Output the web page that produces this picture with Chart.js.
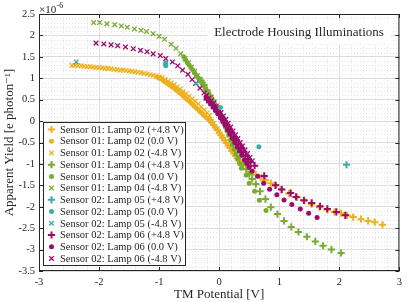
<!DOCTYPE html>
<html>
<head>
<meta charset="utf-8">
<script src="https://cdn.jsdelivr.net/npm/chart.js@4.4.0/dist/chart.umd.min.js"></script>
<style>
  html, body { margin: 0; padding: 0; background: #fff; }
</style>
</head>
<body>
<canvas id="c" width="407" height="302"></canvas>
<script>
// tick values
const xTickVals = [-3, -2, -1, 0, 1, 2, 3];
const yTickVals = [-3.5, -3, -2.5, -2, -1.5, -1, -0.5, 0, 0.5, 1, 1.5, 2, 2.5];

// data: [TM potential (V), apparent yield (x1e-6)]
const s01L02Plus = [[-0.15,0.03],[-0.12,-0.03],[-0.09,-0.09],[-0.06,-0.15],[-0.03,-0.21],[0.00,-0.27],[0.03,-0.33],[0.06,-0.39],[0.09,-0.45],[0.12,-0.51],[0.15,-0.57],[0.18,-0.63],[0.21,-0.69],[0.24,-0.75],[0.27,-0.81],[0.30,-0.87],[0.33,-0.93],[0.36,-0.98],[0.40,-1.04],[0.46,-1.11],[0.52,-1.18],[0.61,-1.25],[0.69,-1.32],[0.77,-1.38],[0.86,-1.45],[0.93,-1.50],[1.04,-1.59],[1.16,-1.69],[1.30,-1.78],[1.42,-1.86],[1.54,-1.94],[1.67,-2.01],[1.80,-2.07],[1.92,-2.12],[2.03,-2.15],[2.13,-2.20],[2.23,-2.24],[2.36,-2.29],[2.48,-2.33],[2.59,-2.36],[2.72,-2.42]];
const s01L02Zero = [[-1.02,1.02],[-1.00,1.00],[-0.98,1.01],[-0.96,0.98],[-0.93,0.95],[-0.90,0.92],[-0.87,0.89],[-0.84,0.86],[-0.81,0.83],[-0.78,0.80],[-0.75,0.77],[-0.72,0.73],[-0.69,0.70],[-0.66,0.66],[-0.63,0.63],[-0.60,0.59],[-0.57,0.55],[-0.54,0.51],[-0.51,0.48],[-0.48,0.44],[-0.45,0.40],[-0.42,0.36],[-0.39,0.32],[-0.36,0.28],[-0.33,0.24],[-0.30,0.20],[-0.27,0.16],[-0.24,0.12],[-0.21,0.08],[-0.18,0.04],[-0.15,0.01],[-0.14,-0.02]];
const s01L02Minus = [[-2.45,1.30],[-2.40,1.30],[-2.35,1.29],[-2.30,1.29],[-2.25,1.28],[-2.20,1.27],[-2.15,1.27],[-2.10,1.26],[-2.05,1.25],[-2.00,1.25],[-1.95,1.24],[-1.90,1.23],[-1.85,1.23],[-1.80,1.22],[-1.75,1.21],[-1.70,1.20],[-1.65,1.19],[-1.60,1.19],[-1.55,1.18],[-1.50,1.17],[-1.45,1.16],[-1.40,1.15],[-1.35,1.14],[-1.30,1.13],[-1.25,1.11],[-1.20,1.10],[-1.15,1.08],[-1.10,1.07],[-1.05,1.05],[-1.00,1.03],[-0.95,1.01],[-0.90,0.97],[-0.85,0.93],[-0.80,0.89],[-0.75,0.85],[-0.70,0.80],[-0.65,0.75],[-0.60,0.69],[-0.55,0.64],[-0.50,0.58],[-0.45,0.52],[-0.40,0.46],[-0.35,0.40],[-0.30,0.33],[-0.25,0.26],[-0.20,0.19],[-0.16,0.13]];

const s01L04Plus = [[-0.30,0.95],[-0.25,0.84],[-0.20,0.72],[-0.15,0.60],[-0.10,0.48],[-0.05,0.35],[0.00,0.22],[0.05,0.08],[0.10,-0.06],[0.15,-0.20],[0.20,-0.35],[0.25,-0.50],[0.30,-0.66],[0.35,-0.82],[0.40,-0.98],[0.45,-1.12],[0.50,-1.24],[0.55,-1.35],[0.61,-1.47],[0.68,-1.64],[0.77,-1.82],[0.86,-2.01],[0.97,-2.17],[1.08,-2.33],[1.20,-2.47],[1.32,-2.59],[1.46,-2.70],[1.60,-2.81],[1.73,-2.91],[1.87,-3.00],[2.03,-3.08]];
const s01L04Zero = [[-0.59,1.50],[-0.56,1.43],[-0.53,1.37],[-0.50,1.31],[-0.47,1.25],[-0.44,1.19],[-0.41,1.13],[-0.38,1.07],[-0.35,1.01],[-0.32,0.95],[-0.29,0.89],[-0.26,0.83],[-0.23,0.76],[-0.20,0.69],[-0.17,0.62],[-0.14,0.55],[-0.11,0.48],[-0.08,0.40],[-0.05,0.32],[-0.02,0.24],[0.01,0.15],[0.04,0.06],[0.07,-0.03],[0.10,-0.13],[0.13,-0.23],[0.16,-0.33],[0.19,-0.44],[0.22,-0.55],[0.25,-0.66],[0.28,-0.77],[0.31,-0.88],[0.34,-0.99],[0.37,-1.10],[0.45,-1.26],[0.50,-1.45],[0.59,-1.64],[0.67,-1.85],[0.78,-2.09]];
const s01L04Minus = [[-2.09,2.30],[-1.99,2.30],[-1.87,2.27],[-1.74,2.25],[-1.63,2.22],[-1.53,2.19],[-1.41,2.15],[-1.30,2.12],[-1.21,2.09],[-1.10,2.04],[-1.00,1.98],[-0.91,1.91],[-0.80,1.79],[-0.72,1.70],[-0.64,1.57],[-0.57,1.46],[-0.51,1.36],[-0.46,1.26],[-0.41,1.16],[-0.36,1.06],[-0.31,0.96],[-0.26,0.86]];

const s02L05Plus = [[2.12,-1.02]];
const s02L05Zero = [[-0.89,1.36],[-0.89,1.32],[-0.89,1.29],[0.02,0.32],[0.66,-0.60]];
const s02L05Minus = [[-2.38,1.38],[-0.38,0.88]];

const s02L06Plus = [[-0.20,0.50],[-0.16,0.44],[-0.12,0.37],[-0.08,0.30],[-0.04,0.23],[0.00,0.16],[0.04,0.08],[0.08,0.00],[0.12,-0.09],[0.16,-0.18],[0.20,-0.27],[0.24,-0.36],[0.28,-0.45],[0.32,-0.54],[0.36,-0.63],[0.40,-0.72],[0.44,-0.81],[0.48,-0.89],[0.52,-0.96],[0.59,-1.04],[0.75,-1.28],[0.94,-1.50],[1.04,-1.60],[1.19,-1.68],[1.28,-1.77],[1.41,-1.85],[1.54,-1.91],[1.68,-1.99],[1.80,-2.05],[1.95,-2.12],[2.10,-2.20]];
const s02L06Zero = [[-0.22,0.56],[-0.18,0.49],[-0.14,0.41],[-0.10,0.33],[-0.06,0.25],[-0.02,0.17],[0.02,0.08],[0.06,-0.01],[0.10,-0.10],[0.14,-0.20],[0.18,-0.30],[0.22,-0.40],[0.26,-0.50],[0.30,-0.60],[0.34,-0.70],[0.38,-0.80],[0.42,-0.90],[0.46,-0.99],[0.50,-1.08],[0.55,-1.17],[0.64,-1.29],[0.74,-1.45],[0.84,-1.59],[0.96,-1.72],[1.08,-1.84],[1.21,-1.95],[1.35,-2.05],[1.49,-2.15],[1.63,-2.25]];
const s02L06Minus = [[-2.05,1.82],[-1.92,1.80],[-1.80,1.78],[-1.69,1.76],[-1.56,1.73],[-1.43,1.69],[-1.31,1.65],[-1.20,1.62],[-1.10,1.57],[-0.98,1.53],[-0.89,1.46],[-0.78,1.38],[-0.69,1.29],[-0.61,1.19],[-0.52,1.09],[-0.45,0.97],[-0.39,0.88],[-0.32,0.77],[-0.25,0.66],[-0.21,0.60],[-0.17,0.54],[-0.13,0.48],[-0.09,0.42],[-0.05,0.35],[-0.01,0.28],[0.03,0.20],[0.07,0.12],[0.11,0.04],[0.15,-0.05],[0.19,-0.14],[0.23,-0.23],[0.27,-0.32],[0.31,-0.41],[0.35,-0.50],[0.39,-0.58],[0.43,-0.67],[0.47,-0.76],[0.51,-0.85],[0.55,-0.93]];

const orange = '#EDB120';
const green = '#77AC30';
const teal = '#3FA9B0';
const magenta = '#9C0A6C';
const serif = "'Liberation Serif', 'DejaVu Serif', serif";
const ink = '#262626';

// build a dataset with the marker look for each bias
const makeSet = (label, pts, color, bias, order) => {
  const set = {
    label,
    data: pts.map(p => ({ x: p[0], y: p[1] })),
    order,
    showLine: false,
    borderColor: color,
    backgroundColor: color,
    pointBackgroundColor: color,
    pointBorderColor: color,
  };
  if (bias === 'plus') {
    Object.assign(set, { pointStyle: 'cross', pointRadius: 3.6, pointHoverRadius: 3.6, pointBorderWidth: 2 });
  } else if (bias === 'zero') {
    Object.assign(set, { pointStyle: 'circle', pointRadius: 2.5, pointHoverRadius: 2.5, pointBorderWidth: 0 });
  } else {
    Object.assign(set, { pointStyle: 'crossRot', pointRadius: 3.3, pointHoverRadius: 3.3, pointBorderWidth: 1.3 });
  }
  set.bias = bias;
  return set;
};

const datasets = [
  makeSet('Sensor 01: Lamp 02 (+4.8 V)', s01L02Plus, orange, 'plus', 12),
  makeSet('Sensor 01: Lamp 02 (0.0 V)', s01L02Zero, orange, 'zero', 11),
  makeSet('Sensor 01: Lamp 02 (-4.8 V)', s01L02Minus, orange, 'minus', 10),
  makeSet('Sensor 01: Lamp 04 (+4.8 V)', s01L04Plus, green, 'plus', 9),
  makeSet('Sensor 01: Lamp 04 (0.0 V)', s01L04Zero, green, 'zero', 8),
  makeSet('Sensor 01: Lamp 04 (-4.8 V)', s01L04Minus, green, 'minus', 7),
  makeSet('Sensor 02: Lamp 05 (+4.8 V)', s02L05Plus, teal, 'plus', 1),
  makeSet('Sensor 02: Lamp 05 (0.0 V)', s02L05Zero, teal, 'zero', 2),
  makeSet('Sensor 02: Lamp 05 (-4.8 V)', s02L05Minus, teal, 'minus', 0),
  makeSet('Sensor 02: Lamp 06 (+4.8 V)', s02L06Plus, magenta, 'plus', 5),
  makeSet('Sensor 02: Lamp 06 (0.0 V)', s02L06Zero, magenta, 'zero', 4),
  makeSet('Sensor 02: Lamp 06 (-4.8 V)', s02L06Minus, magenta, 'minus', 6),
];

// dotted minor grid
const minorGrid = {
  id: 'minorGrid',
  beforeDatasetsDraw(chart) {
    const { ctx, chartArea: a, scales: { x, y } } = chart;
    ctx.save();
    ctx.strokeStyle = '#e2e2e2';
    ctx.lineWidth = 1;
    ctx.setLineDash([1, 2]);
    for (let i = 1; i < 30; i++) {
      if (i % 5 === 0) continue;
      const px = Math.round(x.getPixelForValue(-3 + i * 0.2)) + 0.5;
      ctx.beginPath(); ctx.moveTo(px, a.top); ctx.lineTo(px, a.bottom); ctx.stroke();
    }
    for (let i = 1; i < 60; i++) {
      if (i % 5 === 0) continue;
      const py = Math.round(y.getPixelForValue(-3.5 + i * 0.1)) + 0.5;
      ctx.beginPath(); ctx.moveTo(a.left, py); ctx.lineTo(a.right, py); ctx.stroke();
    }
    ctx.restore();
  }
};

function drawMarker(ctx, bias, color, cx, cy) {
  ctx.save();
  ctx.strokeStyle = color;
  ctx.fillStyle = color;
  ctx.beginPath();
  if (bias === 'plus') {
    ctx.lineWidth = 2;
    ctx.moveTo(cx - 3.6, cy); ctx.lineTo(cx + 3.6, cy);
    ctx.moveTo(cx, cy - 3.6); ctx.lineTo(cx, cy + 3.6);
    ctx.stroke();
  } else if (bias === 'zero') {
    ctx.arc(cx, cy, 2.5, 0, Math.PI * 2);
    ctx.fill();
  } else {
    ctx.lineWidth = 1.3;
    ctx.moveTo(cx - 2.3, cy - 2.3); ctx.lineTo(cx + 2.3, cy + 2.3);
    ctx.moveTo(cx - 2.3, cy + 2.3); ctx.lineTo(cx + 2.3, cy - 2.3);
    ctx.stroke();
  }
  ctx.restore();
}

// title box, legend, frame with inward ticks, exponent label
const decorations = {
  id: 'decorations',
  afterDatasetsDraw(chart) {
    const { ctx } = chart;
    ctx.save();
    // title inside plot
    ctx.fillStyle = '#fff';
    ctx.fillRect(207, 21, 184, 23);
    ctx.fillStyle = ink;
    ctx.font = '13px ' + serif;
    ctx.textAlign = 'center';
    ctx.textBaseline = 'middle';
    ctx.fillText('Electrode Housing Illuminations', 299, 32.5);

    // legend
    const lx = 43.5, ly = 122.5, lw = 142, lh = 143;
    ctx.fillStyle = '#fff';
    ctx.fillRect(lx, ly, lw, lh);
    ctx.strokeStyle = ink;
    ctx.lineWidth = 1;
    ctx.strokeRect(lx, ly, lw, lh);
    ctx.font = '10.5px ' + serif;
    ctx.textAlign = 'left';
    chart.data.datasets.forEach((d, i) => {
      const ry = 129.5 + i * 11.72;
      drawMarker(ctx, d.bias, d.borderColor, 51.5, ry);
      ctx.fillStyle = ink;
      ctx.fillText(d.label, 60, ry + 0.5);
    });
    ctx.restore();
  },
  afterDraw(chart) {
    const { ctx, chartArea: a, scales: { x, y } } = chart;
    ctx.save();
    ctx.strokeStyle = ink;
    ctx.lineWidth = 1;
    ctx.strokeRect(a.left + 0.5, a.top + 0.5, a.right - a.left - 1, a.bottom - a.top - 1);
    ctx.beginPath();
    x.ticks.forEach(t => {
      const px = Math.round(x.getPixelForValue(t.value)) + 0.5;
      ctx.moveTo(px, a.bottom); ctx.lineTo(px, a.bottom - 4);
      ctx.moveTo(px, a.top); ctx.lineTo(px, a.top + 4);
    });
    y.ticks.forEach(t => {
      const py = Math.round(y.getPixelForValue(t.value)) + 0.5;
      ctx.moveTo(a.left, py); ctx.lineTo(a.left + 4, py);
      ctx.moveTo(a.right, py); ctx.lineTo(a.right - 4, py);
    });
    ctx.stroke();
    // exponent
    ctx.fillStyle = ink;
    ctx.textAlign = 'left';
    ctx.textBaseline = 'alphabetic';
    ctx.font = '11px ' + serif;
    ctx.fillText('\u00d710', a.left, a.top - 1);
    const w = ctx.measureText('\u00d710').width;
    ctx.font = '8px ' + serif;
    ctx.fillText('-6', a.left + w + 0.5, a.top - 6);
    ctx.restore();
  }
};

new Chart(document.getElementById('c'), {
  type: 'scatter',
  data: { datasets },
  options: {
    responsive: false,
    animation: false,
    layout: { padding: { top: 14, right: 3, left: 0, bottom: 0 } },
    plugins: { legend: { display: false }, tooltip: { enabled: false } },
    scales: {
      x: {
        type: 'linear', min: -3, max: 3,
        afterBuildTicks: s => { s.ticks = xTickVals.map(v => ({ value: v })); },
        afterFit: s => { s.height = 31; },
        grid: { color: '#dcdcdc', drawTicks: false },
        border: { display: false },
        ticks: { padding: 5, color: ink, font: { family: serif, size: 10.5 }, maxRotation: 0, callback: v => String(v) },
        title: { display: true, text: 'TM Potential [V]', color: ink, font: { family: serif, size: 13 }, padding: { top: 0, bottom: 0 } }
      },
      y: {
        type: 'linear', min: -3.5, max: 2.5,
        afterBuildTicks: s => { s.ticks = yTickVals.map(v => ({ value: v })); },
        afterFit: s => { s.width = 39; },
        grid: { color: '#dcdcdc', drawTicks: false },
        border: { display: false },
        ticks: { padding: 4, color: ink, font: { family: serif, size: 10.5 }, callback: v => String(v) },
        title: { display: true, text: 'Apparent Yield [e photon\u207b\u00b9]', color: ink, font: { family: serif, size: 13 }, padding: { top: 2, bottom: 0 } }
      }
    }
  },
  plugins: [minorGrid, decorations]
});
</script>
</body>
</html>
